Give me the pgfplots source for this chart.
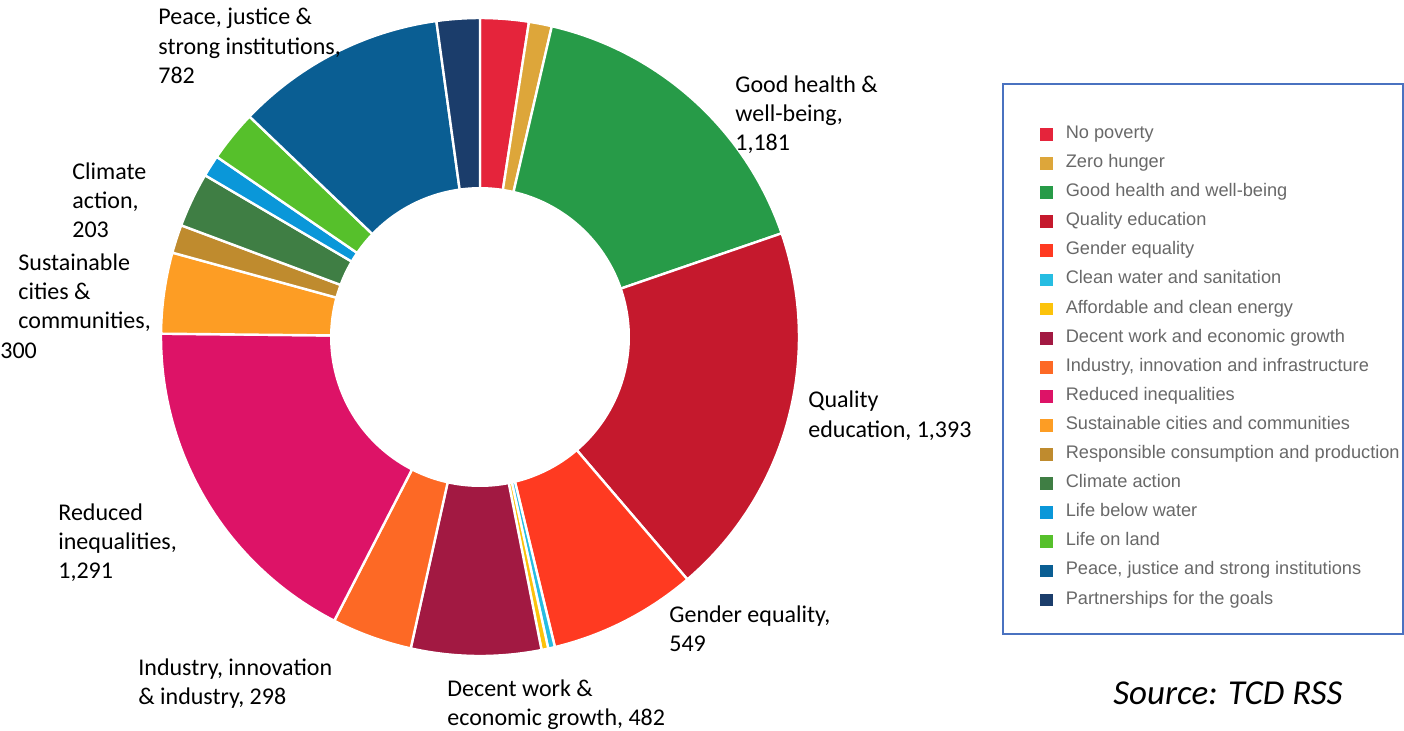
\documentclass[border=0pt]{standalone}
\usepackage{pgfplots}
\pgfplotsset{compat=1.18}
\usepackage{fontspec}
\setmainfont{Carlito}
\newfontfamily\legendfont{Liberation Sans}
\definecolor{sdgA}{HTML}{E5243B}
\definecolor{sdgB}{HTML}{DDA63A}
\definecolor{sdgC}{HTML}{279B48}
\definecolor{sdgD}{HTML}{C5192D}
\definecolor{sdgE}{HTML}{FF3A21}
\definecolor{sdgF}{HTML}{26BDE2}
\definecolor{sdgG}{HTML}{FCC30B}
\definecolor{sdgH}{HTML}{A21942}
\definecolor{sdgI}{HTML}{FD6925}
\definecolor{sdgJ}{HTML}{DD1367}
\definecolor{sdgK}{HTML}{FD9D24}
\definecolor{sdgL}{HTML}{BF8B2E}
\definecolor{sdgM}{HTML}{3F7E44}
\definecolor{sdgN}{HTML}{0A97D9}
\definecolor{sdgO}{HTML}{56C02B}
\definecolor{sdgP}{HTML}{0A5E93}
\definecolor{sdgQ}{HTML}{1B3D6B}
\definecolor{legendgray}{HTML}{686868}
\definecolor{boxblue}{HTML}{4A72C0}
\newcommand\lab{\fontsize{12}{14.5}\selectfont}
% donut geometry (pixel units of the picture)
\def\cx{480}\def\cy{337}\def\rout{319}\def\rin{150}
\def\total{7329}
\xdef\cum{0}
\newcommand\slice[3]{%
  \pgfmathsetmacro\sa{\cum/\total*360}%
  \pgfmathsetmacro\cumnew{\cum+#1}%
  \xdef\cum{\cumnew}%
  \pgfmathsetmacro\sb{\cum/\total*360}%
  \edef\doit{\noexpand\addplot[fill=#2, draw=white, line width=1.2pt, domain=\sa:\sb, samples=60] ({\cx+\rout*sin(x)},{\cy-\rout*cos(x)}) -- (\cx,\cy) -- cycle;}%
  \doit
  \addlegendentry{#3}%
}
\begin{document}
\begin{tikzpicture}
\begin{axis}[
  scale only axis, width=702pt, height=365pt,
  xmin=0, xmax=1404, ymin=0, ymax=730, y dir=reverse,
  hide axis, clip=false,
  legend cell align=left,
  legend image code/.code={\fill[#1, draw=none] (0pt,-3.2pt) rectangle (6.4pt,3.2pt);},
  legend style={at={(axis cs:1040,124)}, anchor=north west, draw=none, fill=none,
    inner sep=0pt, row sep=4.55pt, column sep=6.3pt,
    font=\legendfont\fontsize{9.1}{11}\selectfont, text=legendgray,
    nodes={inner sep=0pt, text height=7pt, text depth=3pt}},
]
\slice{180}{sdgA}{No poverty}
\slice{85}{sdgB}{Zero hunger}
\slice{1181}{sdgC}{Good health and well-being}
\slice{1393}{sdgD}{Quality education}
\slice{549}{sdgE}{Gender equality}
\slice{25}{sdgF}{Clean water and sanitation}
\slice{25}{sdgG}{Affordable and clean energy}
\slice{482}{sdgH}{Decent work and economic growth}
\slice{298}{sdgI}{Industry, innovation and infrastructure}
\slice{1291}{sdgJ}{Reduced inequalities}
\slice{300}{sdgK}{Sustainable cities and communities}
\slice{105}{sdgL}{Responsible consumption and production}
\slice{203}{sdgM}{Climate action}
\slice{80}{sdgN}{Life below water}
\slice{190}{sdgO}{Life on land}
\slice{782}{sdgP}{Peace, justice and strong institutions}
\slice{160}{sdgQ}{Partnerships for the goals}
\addplot[fill=white, draw=none, domain=0:360, samples=200, forget plot] ({\cx+\rin*sin(x)},{\cy-\rin*cos(x)}) -- cycle;
% legend frame
\draw[boxblue, line width=0.8pt] (axis cs:1003,84) rectangle (axis cs:1403,634);
% labels
\node[anchor=base west, font=\lab, inner sep=0pt] at (axis cs:158,24) {Peace, justice \&};
\node[anchor=base west, font=\lab, inner sep=0pt] at (axis cs:158,54) {strong institutions,};
\node[anchor=base west, font=\lab, inner sep=0pt] at (axis cs:158,83) {782};
\node[anchor=base west, font=\lab, inner sep=0pt] at (axis cs:735,92) {Good health \&};
\node[anchor=base west, font=\lab, inner sep=0pt] at (axis cs:735,121) {well-being,};
\node[anchor=base west, font=\lab, inner sep=0pt] at (axis cs:735,150) {1,181};
\node[anchor=base west, font=\lab, inner sep=0pt] at (axis cs:72,179) {Climate};
\node[anchor=base west, font=\lab, inner sep=0pt] at (axis cs:72,208) {action,};
\node[anchor=base west, font=\lab, inner sep=0pt] at (axis cs:72,237) {203};
\node[anchor=base west, font=\lab, inner sep=0pt] at (axis cs:18,270) {Sustainable};
\node[anchor=base west, font=\lab, inner sep=0pt] at (axis cs:18,299) {cities \&};
\node[anchor=base west, font=\lab, inner sep=0pt] at (axis cs:18,328) {communities,};
\node[anchor=base west, font=\lab, inner sep=0pt] at (axis cs:0,358) {300};
\node[anchor=base west, font=\lab, inner sep=0pt] at (axis cs:58,520) {Reduced};
\node[anchor=base west, font=\lab, inner sep=0pt] at (axis cs:58,549) {inequalities,};
\node[anchor=base west, font=\lab, inner sep=0pt] at (axis cs:58,578) {1,291};
\node[anchor=base west, font=\lab, inner sep=0pt] at (axis cs:138,675) {Industry, innovation};
\node[anchor=base west, font=\lab, inner sep=0pt] at (axis cs:138,704) {\& industry, 298};
\node[anchor=base west, font=\lab, inner sep=0pt] at (axis cs:447,696) {Decent work \&};
\node[anchor=base west, font=\lab, inner sep=0pt] at (axis cs:447,725) {economic growth, 482};
\node[anchor=base west, font=\lab, inner sep=0pt] at (axis cs:669,622) {Gender equality,};
\node[anchor=base west, font=\lab, inner sep=0pt] at (axis cs:669,651) {549};
\node[anchor=base west, font=\lab, inner sep=0pt] at (axis cs:808,407) {Quality};
\node[anchor=base west, font=\lab, inner sep=0pt] at (axis cs:808,437) {education, 1,393};
\node[anchor=base west, font=\itshape\fontsize{17.5}{20}\selectfont, inner sep=0pt] at (axis cs:1113,704) {Source: TCD RSS};
\end{axis}
\pgfresetboundingbox
\useasboundingbox (current axis.south west) rectangle (current axis.north east);
\end{tikzpicture}
\end{document}
